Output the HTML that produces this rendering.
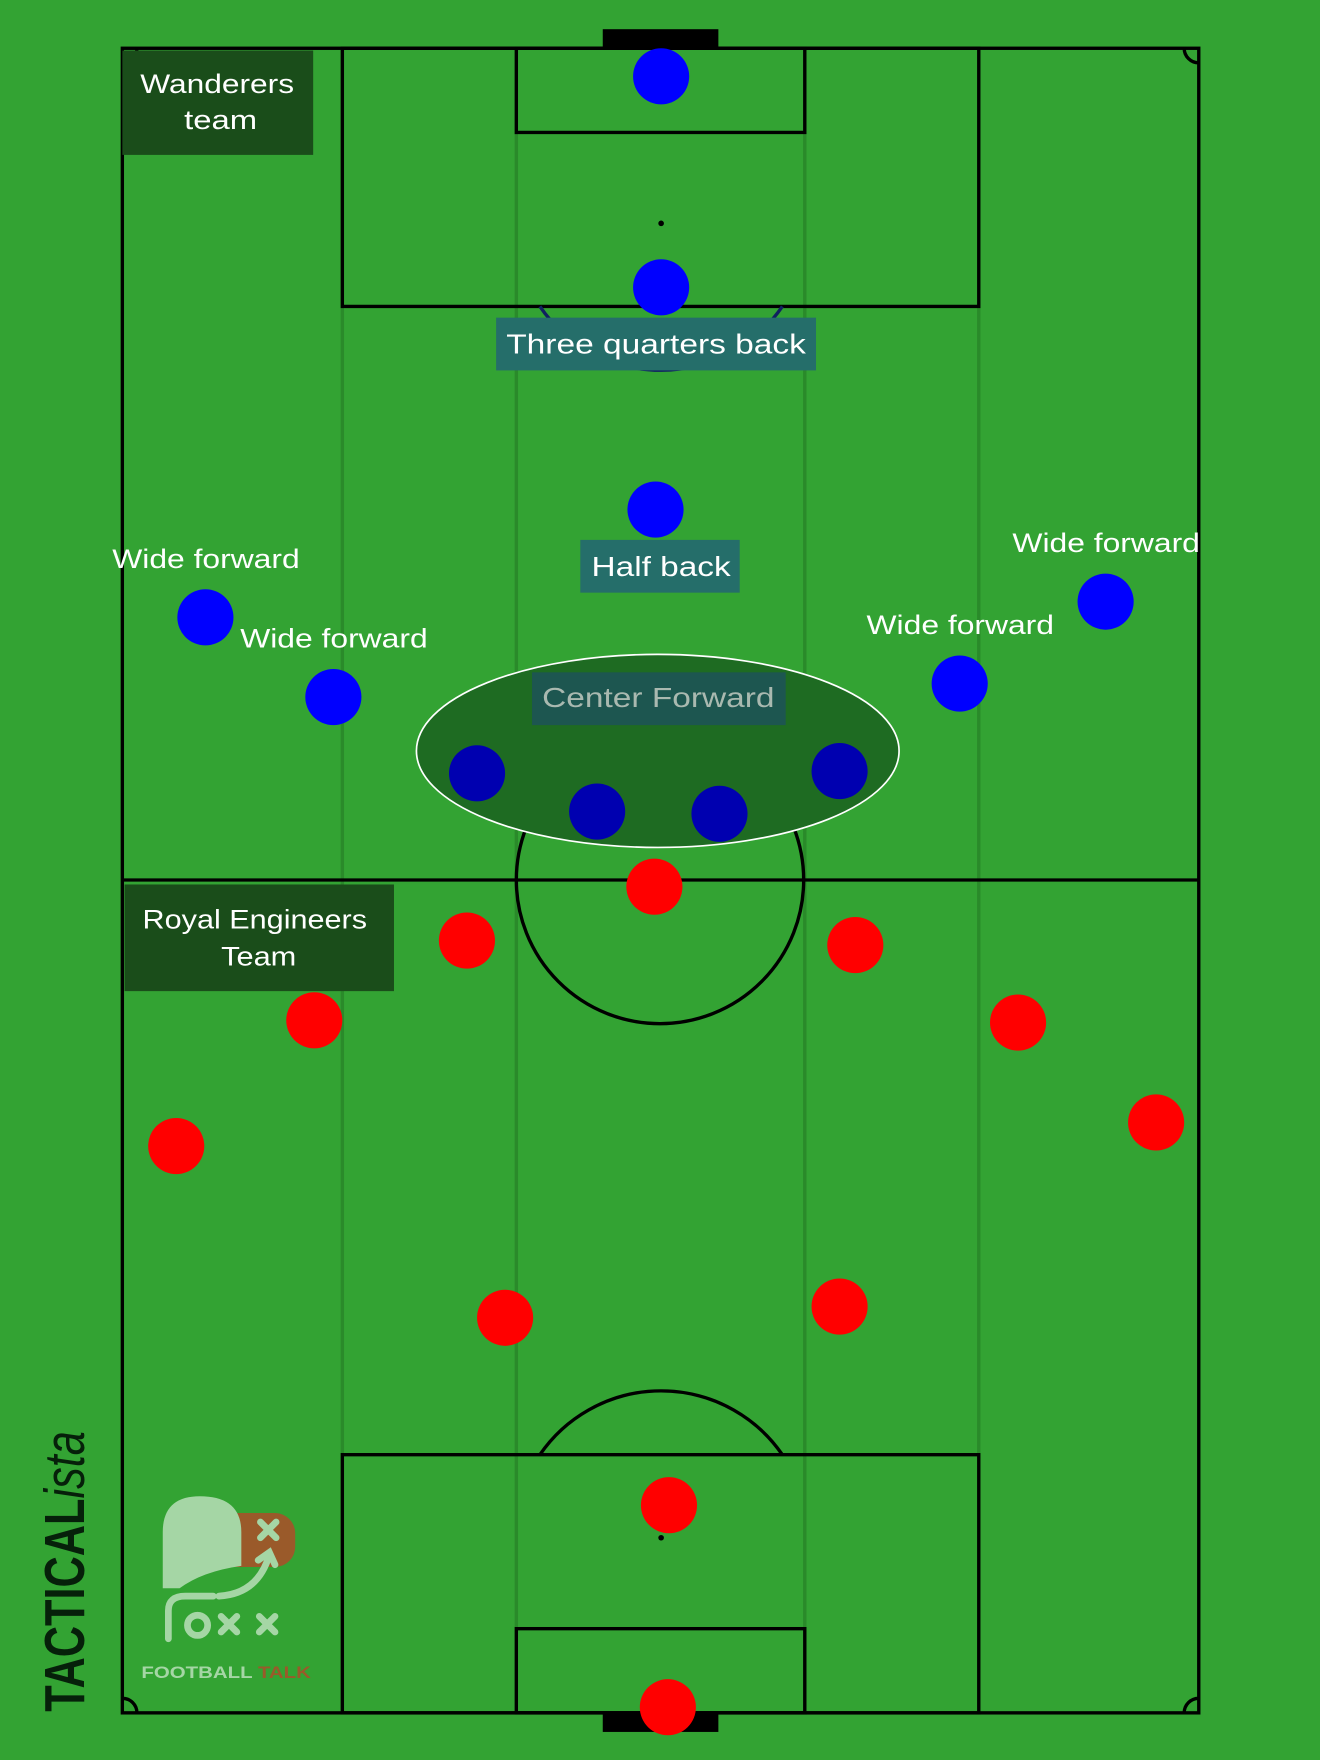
<!DOCTYPE html>
<html><head><meta charset="utf-8"><style>
html,body{margin:0;padding:0;background:#33a333;}
svg{display:block;}
text{font-family:"Liberation Sans",sans-serif;}
</style></head><body>
<svg width="1320" height="1760" viewBox="0 0 1176 1568" xmlns="http://www.w3.org/2000/svg">
<defs><clipPath id="pc"><rect x="109" y="43" width="959" height="1483"/></clipPath></defs>
<rect width="1176" height="1568" fill="#33a333"/>
<g stroke="#2a8a2a" stroke-width="3">
<line x1="305" y1="43" x2="305" y2="1526"/><line x1="460" y1="43" x2="460" y2="1526"/>
<line x1="717" y1="43" x2="717" y2="1526"/><line x1="872" y1="43" x2="872" y2="1526"/>
</g>
<rect x="537" y="26" width="103" height="17" fill="#000"/>
<rect x="537" y="1526" width="103" height="17" fill="#000"/>
<g fill="none" stroke="#000" stroke-width="3">
<rect x="109" y="43" width="959" height="1483"/>
<line x1="109" y1="784" x2="1068" y2="784"/>
<circle cx="588" cy="784" r="128"/>
<rect x="305" y="43" width="567" height="230"/>
<rect x="460" y="43" width="257" height="75"/>
<path d="M481 273 A131 131 0 0 0 697 273" stroke="#102060"/>
<rect x="305" y="1296" width="567" height="230"/>
<rect x="460" y="1451" width="257" height="75"/>
<path d="M481 1296 A131 131 0 0 1 697 1296"/>
<g clip-path="url(#pc)">
<circle cx="109" cy="43" r="13"/><circle cx="1068" cy="43" r="13"/>
<circle cx="109" cy="1526" r="13"/><circle cx="1068" cy="1526" r="13"/>
</g>
</g>
<circle cx="589" cy="199" r="2.5" fill="#000"/><circle cx="589" cy="1370" r="2.5" fill="#000"/>
<ellipse cx="586" cy="669" rx="215" ry="86" fill="#1e6b22" stroke="#fff" stroke-width="1.5"/>
<rect x="109" y="45" width="170" height="93" fill="#1a4d1a"/>
<text x="125" y="83" fill="#fff" font-size="24" textLength="137" lengthAdjust="spacingAndGlyphs">Wanderers</text>
<text x="164" y="115" fill="#fff" font-size="24" textLength="65" lengthAdjust="spacingAndGlyphs">team</text>
<rect x="111" y="788" width="240" height="95" fill="#1a4d1a"/>
<text x="127" y="827" fill="#fff" font-size="24" textLength="200" lengthAdjust="spacingAndGlyphs">Royal Engineers</text>
<text x="197" y="860" fill="#fff" font-size="24" textLength="67" lengthAdjust="spacingAndGlyphs">Team</text>
<rect x="442" y="283" width="285" height="47" fill="#256e6a"/>
<text x="451" y="315" fill="#fff" font-size="25" textLength="267" lengthAdjust="spacingAndGlyphs">Three quarters back</text>
<rect x="517" y="481" width="142" height="47" fill="#256e6a"/>
<text x="527" y="513" fill="#fff" font-size="25" textLength="124" lengthAdjust="spacingAndGlyphs">Half back</text>
<rect x="474" y="599" width="226" height="47" fill="#1d5650"/>
<text x="483" y="630" fill="#a9b9b0" font-size="25" textLength="207" lengthAdjust="spacingAndGlyphs">Center Forward</text>
<g fill="#0000ff">
<circle cx="589" cy="68" r="25"/><circle cx="589" cy="256" r="25"/><circle cx="584" cy="454" r="25"/>
<circle cx="183" cy="550" r="25"/><circle cx="297" cy="621" r="25"/><circle cx="985" cy="536" r="25"/><circle cx="855" cy="609" r="25"/>
</g>
<g fill="#0000b0">
<circle cx="425" cy="689" r="25"/><circle cx="532" cy="723" r="25"/><circle cx="641" cy="725" r="25"/><circle cx="748" cy="687" r="25"/>
</g>
<g fill="#fff" font-size="24">
<text x="100" y="506" textLength="167" lengthAdjust="spacingAndGlyphs">Wide forward</text>
<text x="214" y="577" textLength="167" lengthAdjust="spacingAndGlyphs">Wide forward</text>
<text x="902" y="492" textLength="167" lengthAdjust="spacingAndGlyphs">Wide forward</text>
<text x="772" y="565" textLength="167" lengthAdjust="spacingAndGlyphs">Wide forward</text>
</g>
<g fill="#ff0000">
<circle cx="583" cy="790" r="25"/><circle cx="416" cy="838" r="25"/><circle cx="762" cy="842" r="25"/>
<circle cx="280" cy="909" r="25"/><circle cx="907" cy="911" r="25"/><circle cx="157" cy="1021" r="25"/>
<circle cx="1030" cy="1000" r="25"/><circle cx="450" cy="1174" r="25"/><circle cx="748" cy="1164" r="25"/>
<circle cx="596" cy="1341" r="25"/><circle cx="595" cy="1521" r="25"/>
</g>
<text transform="translate(75,1525) rotate(-90)" font-size="50" font-weight="bold" fill="#06200a" textLength="250" lengthAdjust="spacingAndGlyphs">TACTICAL<tspan font-weight="normal" font-style="italic">ista</tspan></text>
<rect x="175" y="1348" width="88" height="48" rx="18" fill="#9a5a2a"/>
<path d="M145 1415 L145 1365 Q145 1333 178 1333 Q215 1333 215 1365 L215 1395 Q180 1400 160 1415 Z" fill="#a5d6a5"/>
<g stroke="#a5d6a5" stroke-width="6" fill="none" stroke-linecap="round">
<path d="M232 1356 l14 14 M246 1356 l-14 14"/>
<path d="M195 1422 Q230 1420 240 1385"/><path d="M230 1390 l10 -7 l5 11"/>
<path d="M150 1460 L150 1435 Q150 1422 165 1422 L190 1422"/>
<circle cx="176" cy="1448" r="9"/>
<path d="M197 1440 l14 14 M211 1440 l-14 14 M231 1440 l14 14 M245 1440 l-14 14"/>
</g>
<text x="126" y="1495" font-size="15" font-weight="bold" fill="#a5d6a5" textLength="151" lengthAdjust="spacingAndGlyphs">FOOTBALL <tspan fill="#9a5a2a">TALK</tspan></text>
</svg>
</body></html>
